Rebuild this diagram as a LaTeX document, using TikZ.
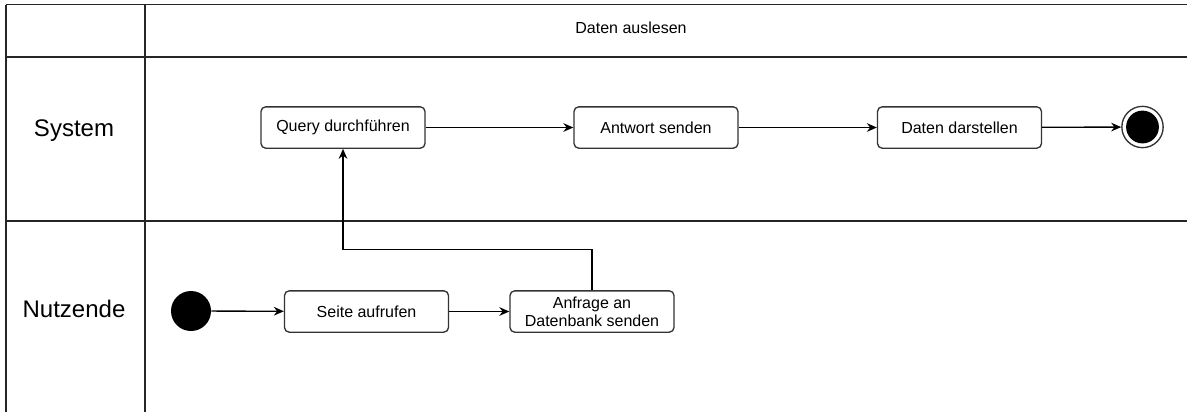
\documentclass[tikz,border=0pt]{standalone}
\usepackage{fontspec}
\setmainfont{Liberation Sans}
\usetikzlibrary{arrows.meta}

\begin{document}
\begin{tikzpicture}[x=0.75pt, y=-0.75pt,
  lane/.style={line width=1pt, draw=black!85},
  act/.style={draw=black!80, line width=1pt, rounded corners=3.5pt, fill=white,
    minimum width=123pt, minimum height=31pt, inner sep=1pt, align=center,
    font=\fontsize{12}{13.5}\selectfont},
  flow/.style={-{Stealth[length=7.5pt,width=6.5pt]}, line width=1pt},
  startdot/.style={circle, fill=black, minimum size=30pt, inner sep=0pt},
  enddot/.style={circle, draw=black!80, line width=1pt, fill=white,
    minimum size=31pt, inner sep=0pt,
    path picture={\fill[black] (path picture bounding box.center) circle (12.3pt);}},
  lanelabel/.style={font=\fontsize{18}{22}\selectfont}]

  \useasboundingbox (0,0) rectangle (1187,412);

  %% pool and lanes
  \draw[lane] (6,4.5) -- (1187,4.5);
  \draw[lane] (6,57) -- (1187,57);
  \draw[lane] (6,221) -- (1187,221);
  \draw[lane] (6,4.5) -- (6,412);
  \draw[lane] (145,4.5) -- (145,412);

  \node[font=\fontsize{12}{14}\selectfont] (title) at (631,28) {Daten auslesen};
  \node[lanelabel] (sys) at (74,131) {System};
  \node[lanelabel] (user) at (74,309) {Nutzende};

  %% Nutzende
  \node[startdot] (start) at (191,311) {};
  \node[act] (seite) at (366.5,311.5) {Seite aufrufen};
  \node[act] (anfrage) at (592,311.5) {Anfrage an\\Datenbank senden};

  %% System
  \node[act] (query) at (343,127.5) {Query durchführen};
  \node[act] (antwort) at (656,127.5) {Antwort senden};
  \node[act] (darstellen) at (959.5,127.5) {Daten darstellen};
  \node[enddot] (stop) at (1142.5,127) {};

  %% flows
  \draw[flow] (start) -- (seite);
  \draw[flow] (seite) -- (anfrage);
  \draw[flow] (anfrage.north) -- ++(0,-41) -| (query.south); %% up to System
  \draw[flow] (query) -- (antwort);
  \draw[flow] (antwort) -- (darstellen);
  \draw[flow] (darstellen) -- (stop);

\end{tikzpicture}
\end{document}
